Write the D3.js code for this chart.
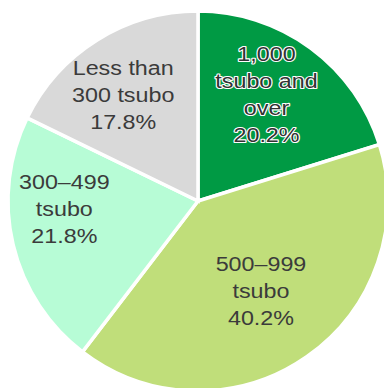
<!DOCTYPE html>
<html>
<head>
<meta charset="utf-8">
<script src="https://cdn.jsdelivr.net/npm/d3@7"></script>
<style>
  html, body { margin: 0; padding: 0; background: #fff; }
  svg { display: block; }
</style>
</head>
<body>
<svg id="chart" width="384" height="388"></svg>
<script>
// Share of sites by floor area (tsubo), clockwise from 12 o'clock
const categories = ["1,000 tsubo and over", "500–999 tsubo", "300–499 tsubo", "Less than 300 tsubo"];
const shares = [20.2, 40.2, 21.8, 17.8];
const labelLines = [
  ["1,000", "tsubo and", "over", "20.2%"],
  ["500–999", "tsubo", "40.2%"],
  ["300–499", "tsubo", "21.8%"],
  ["Less than", "300 tsubo", "17.8%"]
];
const sliceColors = ["#009a44", "#c0de7a", "#b7fcd6", "#d9d9d9"];

const width = 384, height = 388;
const cx = 198, cy = 201, radius = 190;
const labelRadius = 124;
const lineHeight = 27;
const fontSize = 21;
const textScaleX = 1.11;
// small per-slice nudges for label placement (px)
const labelNudge = [[-5, -7], [-8, -12], [-13, -21], [-9, -1]];

const svg = d3.select("#chart");
const g = svg.append("g").attr("transform", `translate(${cx},${cy})`);

const pie = d3.pie().sort(null).value(d => d.value);
const arcs = pie(shares.map((v, i) => ({ value: v, i })));

const arc = d3.arc().innerRadius(0).outerRadius(radius);
const labelArc = d3.arc().innerRadius(labelRadius).outerRadius(labelRadius);

g.selectAll("path.slice")
  .data(arcs)
  .join("path")
  .attr("class", "slice")
  .attr("d", arc)
  .attr("fill", d => sliceColors[d.data.i])
  .attr("stroke", "#fff")
  .attr("stroke-width", 3.5)
  .attr("stroke-linejoin", "miter");

const labels = g.selectAll("g.label")
  .data(arcs)
  .join("g")
  .attr("class", "label")
  .attr("transform", d => {
    const [x, y] = labelArc.centroid(d);
    const [nx, ny] = labelNudge[d.data.i];
    return `translate(${x + nx},${y + ny}) scale(${textScaleX},1)`;
  });

labels.each(function(d) {
  const lines = labelLines[d.data.i];
  const n = lines.length;
  const capHalf = fontSize * 0.716 / 2;
  const t = d3.select(this).append("text")
    .attr("text-anchor", "middle")
    .attr("font-family", "'Liberation Sans', Arial, sans-serif")
    .attr("font-size", fontSize)
    .attr("fill", "#3b3b3b");
  if (d.data.i === 0) {
    t.attr("stroke", "#ffffff")
     .attr("stroke-width", 2.2)
     .attr("stroke-linejoin", "round")
     .attr("paint-order", "stroke")
     .attr("fill", "#333333");
  }
  lines.forEach((line, k) => {
    t.append("tspan")
      .attr("x", 0)
      .attr("y", (k - (n - 1) / 2) * lineHeight + capHalf)
      .text(line);
  });
});
</script>
</body>
</html>
